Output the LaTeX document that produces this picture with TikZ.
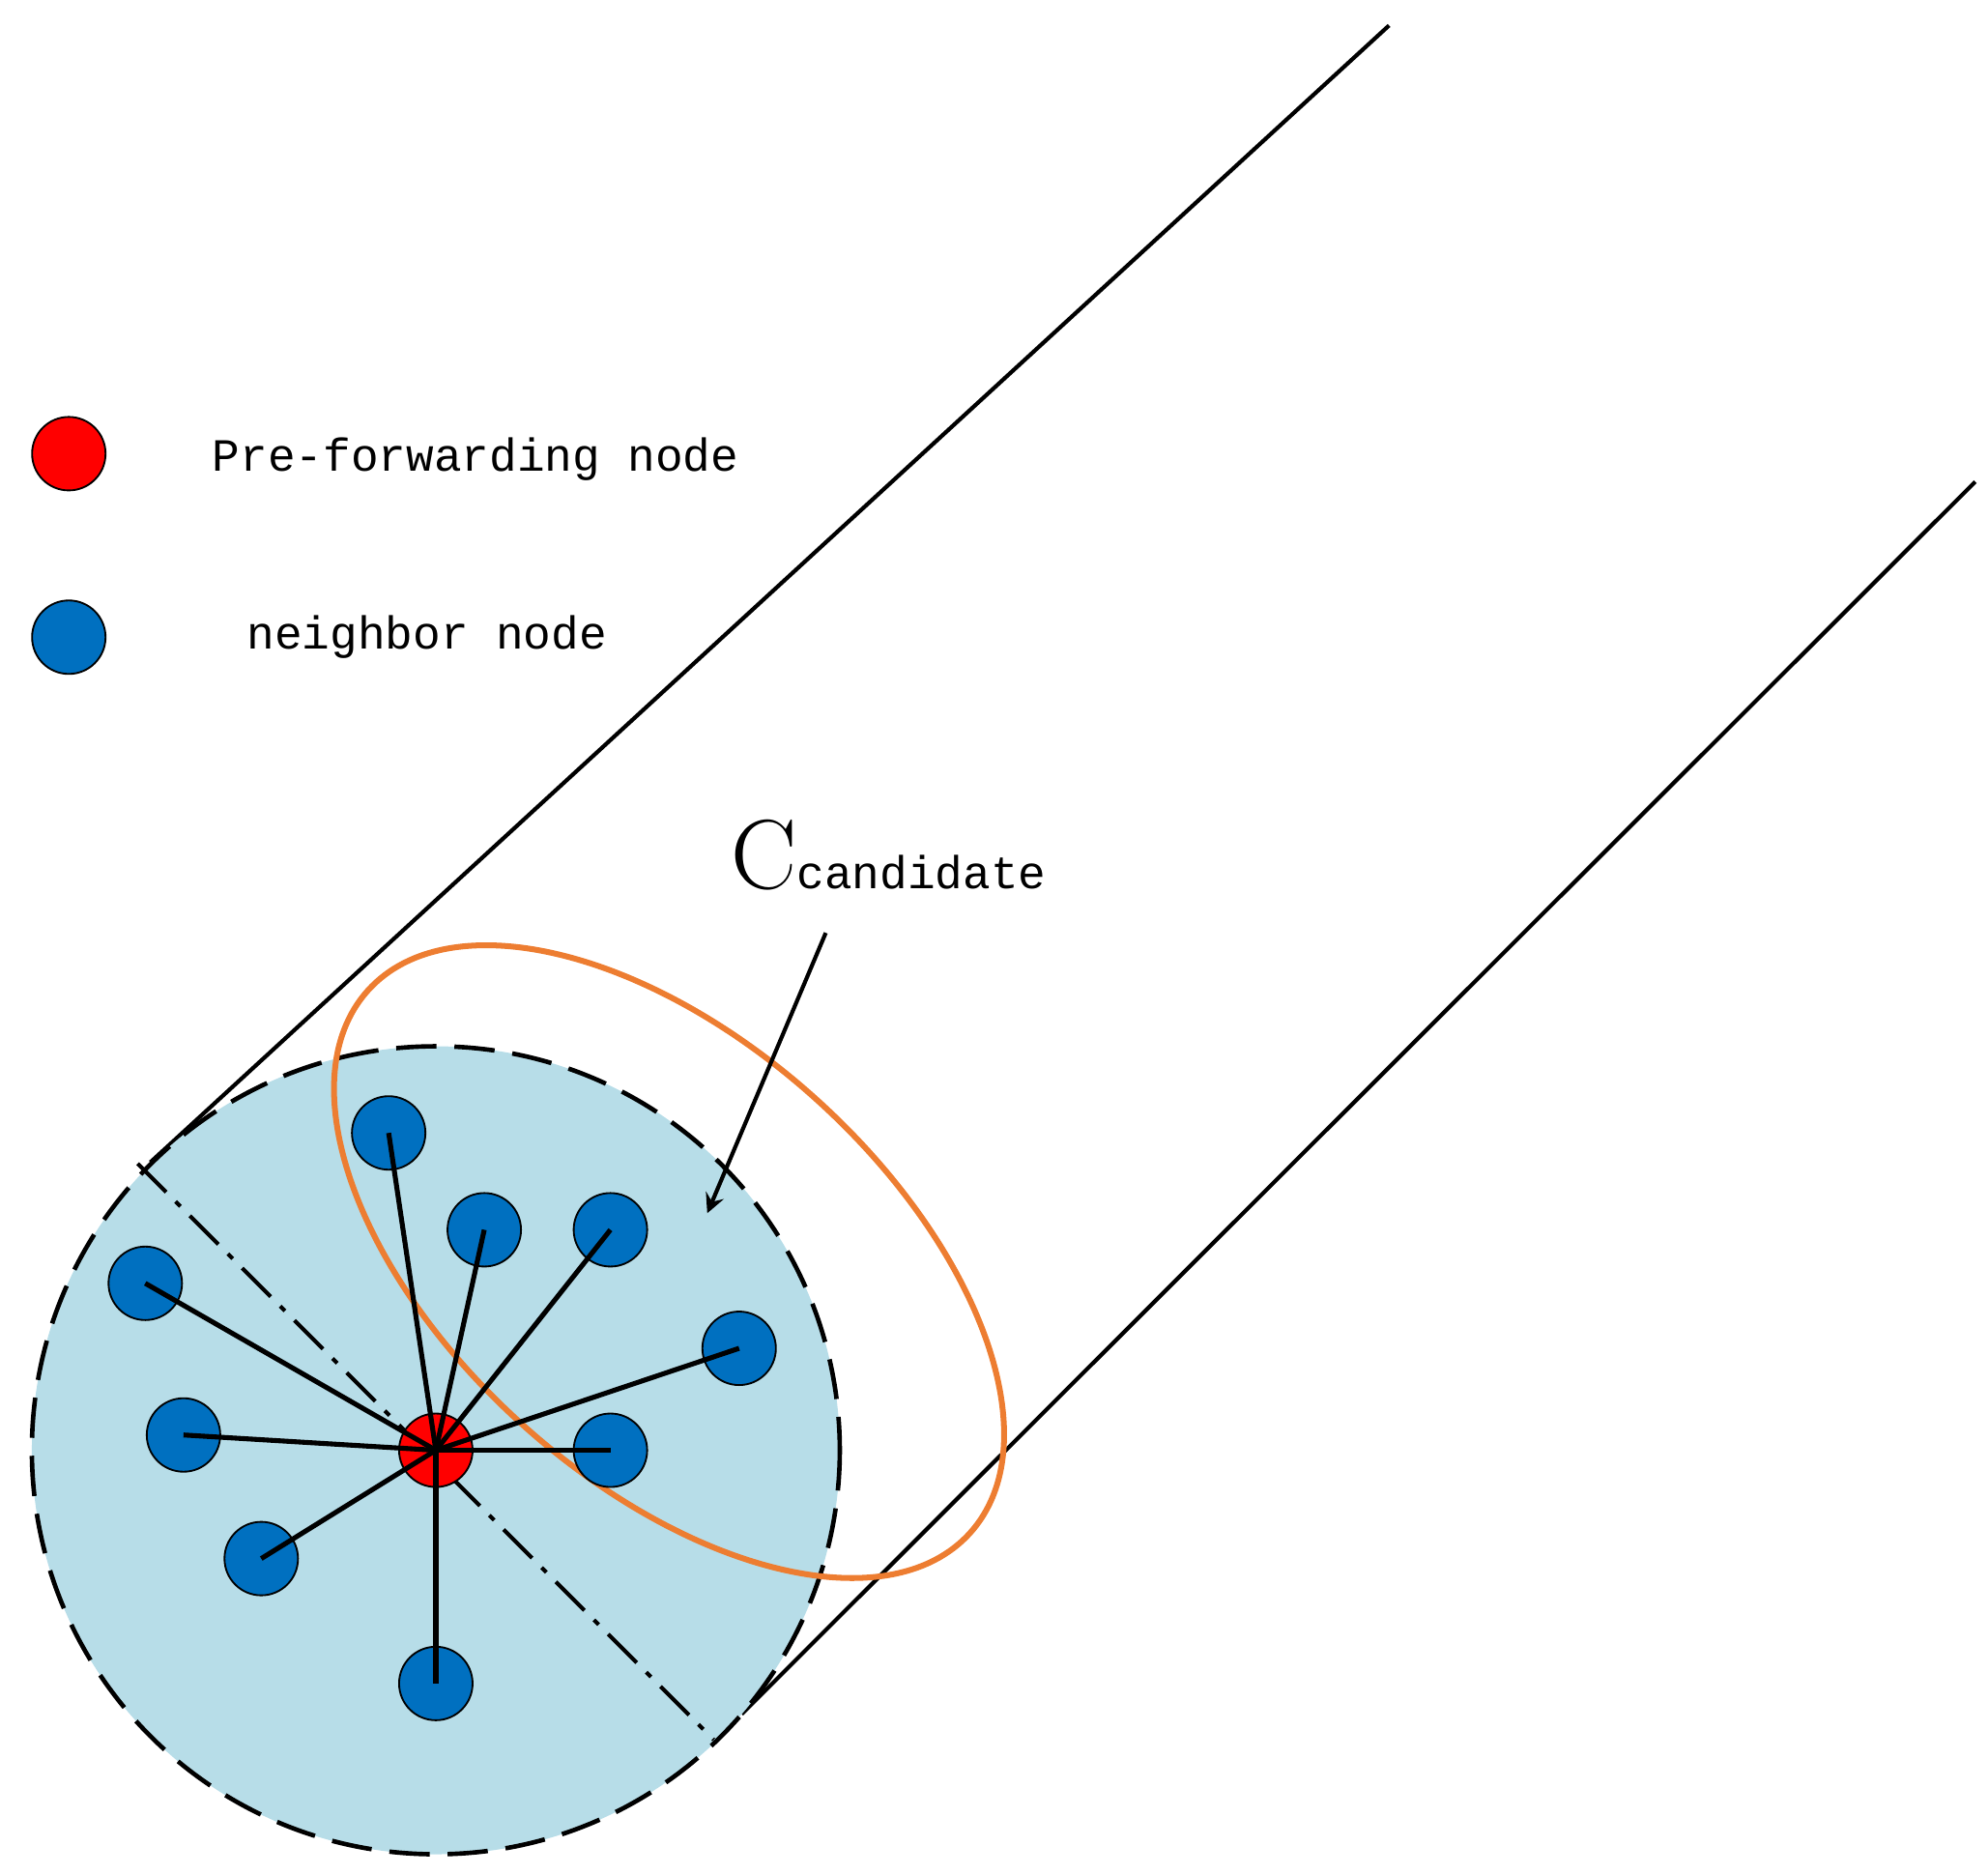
\documentclass[tikz,border=0pt]{standalone}
\usepackage{fontspec}
\newfontfamily\mono{Liberation Mono}
\definecolor{nblue}{RGB}{0,112,192}
\definecolor{disk}{RGB}{183,221,232}
\definecolor{orng}{RGB}{237,125,49}
\begin{document}
\begin{tikzpicture}[x=0.01cm,y=-0.01cm,
  blue node/.style={circle,draw=black,line width=0.4pt,fill=nblue,minimum size=16.4pt,inner sep=0pt},
  red node/.style={circle,draw=black,line width=0.4pt,fill=red,minimum size=16.4pt,inner sep=0pt},
  spoke/.style={line width=1.1pt}]
\useasboundingbox (0,0) rectangle (1560,1471);
\coordinate (u1) at (118,912); \coordinate (u2) at (1090,20);
\coordinate (l1) at (582,1345); \coordinate (l2) at (1550,378);
\draw[line width=0.9pt] (u1) -- (u2);
\draw[line width=0.9pt] (l1) -- (l2);
\draw[fill=disk,dash pattern=on 9pt off 4pt,line width=1pt] (342,1138) circle (317);
\coordinate (d1) at (108,913); \coordinate (d2) at (560,1365);
\draw[line width=0.9pt,dash pattern=on 9pt off 3pt on 1.5pt off 3pt] (d1) -- (d2);
\draw[orng,line width=1.3pt,rotate around={-42:(525,990)}] (525,990) ellipse [x radius=318,y radius=172];
\node[red node] (c) at (342,1138) {};
\foreach \n/\x/\y in {a/305/889,b/380/965,d/479/965,e/114/1007,f/580/1058,g/144/1126,h/479/1138,i/205/1223,j/342/1321}{
  \node[blue node] (\n) at (\x,\y) {};
}
\foreach \n in {a,b,d,e,f,g,h,i,j}{\draw[spoke] (c.center) -- (\n.center);}
\node[red node] (lr) at (54,356) {};
\node[blue node] (lb) at (54,500) {};
\node[anchor=west,font=\mono\fontsize{10.3}{12}\selectfont,inner sep=0pt] (t1) at (166,360) {Pre-forwarding node};
\node[anchor=west,font=\mono\fontsize{10.3}{12}\selectfont,inner sep=0pt] (t2) at (193,500) {neighbor node};
\node[anchor=base west,inner sep=0pt] (lab) at (573,697) {\fontsize{22}{24}\selectfont C\mono\fontsize{10.3}{12}\selectfont candidate};
\coordinate (ar) at (555,952);
\draw[line width=0.9pt,-stealth] (648,732) -- (ar);
\end{tikzpicture}
\end{document}
